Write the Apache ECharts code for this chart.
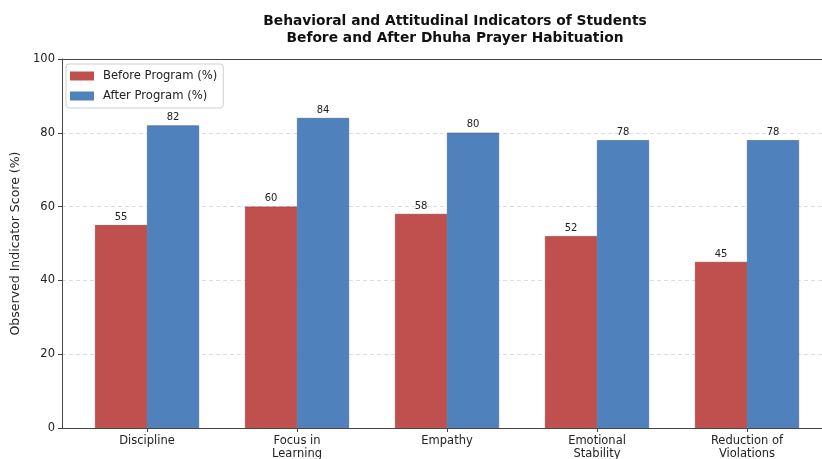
<!DOCTYPE html>
<html>
<head>
    <meta charset="utf-8">
    <title>Dhuha Prayer Habituation</title>
    <script src="https://cdn.jsdelivr.net/npm/echarts@6/dist/echarts.min.js"></script>
    <style>
        html, body { margin: 0; padding: 0; background: #fff; }
        #main { width: 822px; height: 459px; }
    </style>
</head>
<body>
<div id="main"></div>
<script>
    // data
    var categories = ['Discipline', 'Focus in\nLearning', 'Empathy', 'Emotional\nStability', 'Reduction of\nViolations'];
    var beforeValues = [55, 60, 58, 52, 45];
    var afterValues = [82, 84, 80, 78, 78];
    var yTicks = [0, 20, 40, 60, 80, 100];

    var positions = categories.map(function (c, i) { return i; });
    var font = '"DejaVu Sans", sans-serif';

    function pairs(vals) {
        return vals.map(function (v, i) { return [i, v]; });
    }

    var myChart = echarts.init(document.getElementById('main'));

    var option = {
        backgroundColor: '#fff',
        animation: false,
        title: {
            text: 'Behavioral and Attitudinal Indicators of Students\nBefore and After Dhuha Prayer Habituation',
            left: 450,
            top: 8,
            textAlign: 'center',
            textStyle: {
                fontFamily: font,
                fontSize: 13.8,
                fontWeight: 'bold',
                color: '#111',
                lineHeight: 17
            }
        },
        legend: {
            data: ['Before Program (%)', 'After Program (%)'],
            orient: 'vertical',
            left: 66,
            top: 64,
            icon: 'rect',
            itemWidth: 24,
            itemHeight: 9,
            itemGap: 8,
            padding: [6, 6, 6, 4],
            borderColor: '#d0d0d0',
            borderWidth: 1,
            borderRadius: 3,
            itemStyle: { borderWidth: 0 },
            textStyle: { fontFamily: font, fontSize: 11.6, color: '#222', padding: [0, 0, 0, 4] }
        },
        grid: {
            left: 62,
            right: 0,
            top: 59,
            bottom: 31,
            outerBoundsMode: 'none',
            containLabel: false
        },
        xAxis: [{
            type: 'value',
            min: -0.567,
            max: 4.5,
            splitLine: { show: false },
            axisLine: { show: true, onZero: false, lineStyle: { color: '#444', width: 1 } },
            axisTick: { show: true, customValues: positions, length: 4, lineStyle: { color: '#444' } },
            axisLabel: {
                customValues: positions,
                formatter: function (v) { return categories[Math.round(v)]; },
                fontFamily: font,
                fontSize: 11.5,
                color: '#222',
                lineHeight: 13,
                margin: 7
            }
        }, {
            type: 'value',
            position: 'top',
            min: -0.567,
            max: 4.5,
            splitLine: { show: false },
            axisLine: { show: true, onZero: false, lineStyle: { color: '#444', width: 1 } },
            axisTick: { show: false },
            axisLabel: { show: false }
        }],
        yAxis: {
            type: 'value',
            min: 0,
            max: 100,
            interval: 20,
            name: 'Observed Indicator Score (%)',
            nameLocation: 'middle',
            nameGap: 38,
            nameTextStyle: { fontFamily: font, fontSize: 12.5, color: '#222' },
            axisLine: { show: true, onZero: false, lineStyle: { color: '#444', width: 1 } },
            axisTick: { show: true, length: 4, lineStyle: { color: '#444' } },
            axisLabel: {
                fontFamily: font,
                fontSize: 11.5,
                color: '#222',
                margin: 7,
                formatter: function (v) { return yTicks.indexOf(v) >= 0 ? String(v) : ''; }
            },
            splitLine: {
                show: true,
                lineStyle: { color: '#dcdcdc', type: [4, 3], width: 1 }
            }
        },
        series: [{
            name: 'Before Program (%)',
            type: 'bar',
            xAxisIndex: 0,
            data: pairs(beforeValues),
            barWidth: 52,
            barGap: '0%',
            itemStyle: { color: '#c0504d', borderColor: '#8e3a38', borderWidth: 0.6 },
            label: {
                show: true,
                position: 'top',
                distance: 3,
                formatter: function (p) { return p.value[1]; },
                fontFamily: font,
                fontSize: 10,
                color: '#222'
            }
        }, {
            name: 'After Program (%)',
            type: 'bar',
            xAxisIndex: 0,
            data: pairs(afterValues),
            barWidth: 52,
            barGap: '0%',
            itemStyle: { color: '#4f81bd', borderColor: '#3a5f8c', borderWidth: 0.6 },
            label: {
                show: true,
                position: 'top',
                distance: 3,
                formatter: function (p) { return p.value[1]; },
                fontFamily: font,
                fontSize: 10,
                color: '#222'
            }
        }]
    };
    myChart.setOption(option);
</script>
</body>
</html>
